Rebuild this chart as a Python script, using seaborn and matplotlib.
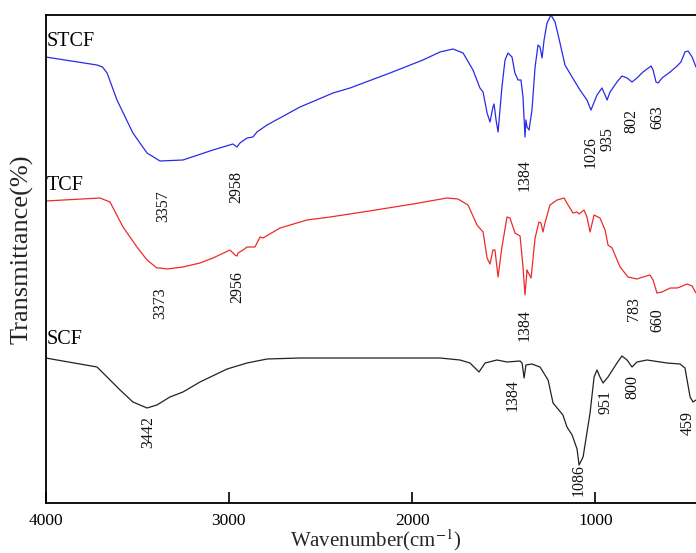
import matplotlib
matplotlib.use("Agg")
import matplotlib.pyplot as plt
import seaborn as sns
import pandas as pd

# ---- data (wavenumber in cm^-1, transmittance in arbitrary offset units) ----
stcf_wn = [4000, 3720, 3690, 3665, 3611, 3524, 3447, 3376, 3251, 3087, 2978, 2956, 2940, 2901, 2869,
           2847, 2792, 2612, 2432, 2339, 2121, 1941, 1848, 1777, 1722, 1668, 1630, 1613, 1591,
           1575, 1559, 1553, 1542, 1531, 1510, 1493, 1477, 1455, 1439, 1422, 1406, 1395, 1384,
           1379, 1373, 1362, 1346, 1329, 1313, 1302, 1291, 1280, 1264, 1242, 1220, 1193, 1166,
           1127, 1084, 1046, 1024, 1013, 991, 964, 947, 936, 920, 882, 855, 827, 800, 773, 740,
           696, 685, 669, 658, 636, 592, 554, 533, 511, 494, 472, 451]
stcf_t = [446, 438, 436, 430, 403, 370, 350, 342, 343, 353, 359, 356, 360, 365, 366,
          371, 378, 396, 410, 415, 430, 443, 451, 454, 450, 433, 415, 411, 390,
          381, 396, 399, 383, 371, 416, 443, 450, 446, 430, 423, 423, 406, 366,
          383, 376, 373, 393, 436, 458, 456, 445, 463, 480, 488, 481, 460, 438,
          426, 413, 403, 393, 398, 408, 415, 408, 403, 411, 421, 427, 425, 421, 425, 431,
          437, 433, 421, 420, 425, 431, 437, 441, 451, 452, 446, 436]

tcf_wn = [4000, 3704, 3649, 3578, 3502, 3447, 3393, 3376, 3338, 3251, 3158, 3087, 2994, 2967,
          2956, 2950, 2923, 2901, 2869, 2858, 2830, 2814, 2721, 2574, 2448, 2268, 1995, 1810,
          1750, 1695, 1646, 1613, 1591, 1575, 1559, 1548, 1531, 1510, 1482, 1466, 1439, 1411,
          1395, 1384, 1373, 1368, 1351, 1329, 1308, 1297, 1286, 1275, 1248, 1209, 1171, 1149,
          1122, 1100, 1089, 1062, 1046, 1029, 1007, 975, 947, 931, 909, 865, 822, 773, 740,
          702, 685, 664, 636, 592, 554, 538, 500, 472, 451]
tcf_t = [302, 305, 301, 276, 256, 243, 235, 235, 234, 236, 240, 245, 253, 248,
         247, 250, 253, 256, 256, 256, 266, 265, 275, 283, 286, 291, 299, 305,
         304, 298, 278, 271, 245, 239, 253, 253, 226, 256, 286, 285, 270, 267,
         236, 208, 233, 231, 225, 265, 281, 280, 271, 280, 298, 303, 305, 298,
         290, 291, 289, 293, 286, 271, 288, 285, 273, 258, 255, 236, 226, 224, 226,
         228, 223, 210, 211, 215, 215, 216, 219, 217, 210]

scf_wn = [4000, 3720, 3665, 3594, 3524, 3447, 3393, 3322, 3251, 3158, 3010, 2901, 2792, 2612,
          2339, 1848, 1739, 1684, 1668, 1635, 1602, 1537, 1482, 1411, 1400, 1389, 1379, 1346,
          1302, 1258, 1231, 1177, 1155, 1127, 1100, 1089, 1067, 1029, 1007, 991, 975, 958,
          931, 882, 855, 827, 800, 773, 718, 609, 538, 511, 483, 467, 451]
scf_t = [145, 136, 126, 113, 101, 95, 98, 106, 111, 121, 134, 140, 144, 145,
         145, 145, 143, 140, 137, 131, 140, 143, 141, 142, 140, 125, 138, 139,
         136, 123, 100, 88, 76, 68, 54, 38, 46, 90, 126, 133, 126, 120,
         126, 140, 147, 143, 136, 141, 143, 140, 139, 135, 106, 101, 103]

series_names = ["STCF", "TCF", "SCF"]
series_colors = ["#2a2ae8", "#ee2a2a", "#222222"]

# peak labels: (text, wavenumber, y-centre)
stcf_peaks = [("3357", 3357, 297), ("2958", 2958, 316), ("1384", 1384, 328),
              ("1026", 1026, 351), ("935", 935, 364), ("802", 802, 382), ("663", 663, 386)]
tcf_peaks = [("3373", 3373, 200), ("2956", 2956, 216), ("1384", 1384, 178),
             ("783", 790, 194), ("660", 660, 183)]
scf_peaks = [("3442", 3442, 71), ("1384", 1454, 108), ("1086", 1094, 23),
             ("951", 945, 101), ("800", 796, 116), ("459", 494, 80)]
name_pos = [(3995, 461), (3995, 317), (3993, 163)]

# ---- figure ----
sns.set_theme(style="ticks")
plt.rcParams["font.family"] = ["Liberation Serif", "DejaVu Serif"]
plt.rcParams["mathtext.fontset"] = "stix"

fig = plt.figure(figsize=(6.96, 5.53), dpi=100)
ax = fig.add_axes([45.7 / 696, 1 - 503 / 553, (705.3 - 45.7) / 696, 488 / 553])

frames = []
for name, wn, t in [("STCF", stcf_wn, stcf_t), ("TCF", tcf_wn, tcf_t), ("SCF", scf_wn, scf_t)]:
    frames.append(pd.DataFrame({"wn": wn, "t": t, "sample": name}))
df = pd.concat(frames, ignore_index=True)

sns.lineplot(data=df, x="wn", y="t", hue="sample", palette=dict(zip(series_names, series_colors)),
             estimator=None, sort=False, linewidth=0.9, legend=False, ax=ax)

ax.set_xlim(4000, 400)
ax.set_ylim(0, 488)
ax.set_xticks([4000, 3000, 2000, 1000])
ax.set_yticks([])
ax.tick_params(axis="x", direction="in", length=8, width=1.2, pad=7, labelsize=12.5, colors="black")
for s in ax.spines.values():
    s.set_linewidth(1.3)
    s.set_color("black")

ax.set_xlabel("Wavenumber(cm$^{-1}$)", fontsize=15, labelpad=-1)
ax.set_ylabel("Transmittance(%)", fontsize=19)
ax.yaxis.set_label_coords(-0.019, 0.52)

for txt_list in (stcf_peaks, tcf_peaks, scf_peaks):
    for label, x, y in txt_list:
        ax.text(x, y, label, rotation=90, ha="center", va="center", fontsize=11.5, color="#111111")

for (x, y), name in zip(name_pos, series_names):
    ax.text(x, y, name, ha="left", va="center", fontsize=14.5, color="black")

fig.savefig("out.png", dpi=100)
